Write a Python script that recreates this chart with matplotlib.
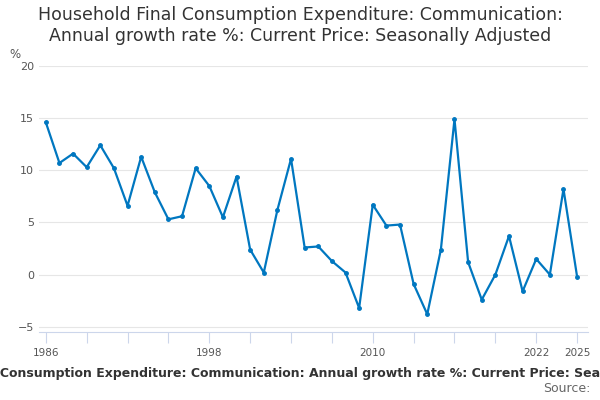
import matplotlib
matplotlib.use("Agg")
import matplotlib.pyplot as plt

# Annual growth rate (%) by year
years = list(range(1986, 2026))
growth = [14.6, 10.7, 11.6, 10.3, 12.4, 10.2, 6.6, 11.3, 7.9, 5.3,
          5.6, 10.2, 8.5, 5.5, 9.4, 2.4, 0.2, 6.2, 11.1, 2.6,
          2.7, 1.3, 0.2, -3.2, 6.7, 4.7, 4.8, -0.9, -3.8, 2.4,
          14.9, 1.2, -2.4, 0.0, 3.7, -1.6, 1.5, 0.0, 8.2, -0.2]
label_years = [1986, 1998, 2010, 2022, 2025]
y_ticks = [-5, 0, 5, 10, 15, 20]

fig = plt.figure(figsize=(6, 4), dpi=100)
ax = fig.add_axes([0.065, 0.17, 0.915, 0.665])

ax.plot(years, growth, color="#0077c0", linewidth=1.6, marker="o", markersize=2.5)

ax.set_ylim(-5.5, 20)
ax.set_xlim(1985.5, 2025.8)
ax.set_yticks(y_ticks)
ax.grid(axis="y", color="#e6e6e6", linewidth=0.8)
ax.set_axisbelow(True)

tick_years = sorted(set(range(1986, 2026, 3)) | {2025})
ax.set_xticks(tick_years)
ax.set_xticklabels([str(y) if y in label_years else "" for y in tick_years])
ax.tick_params(axis="x", colors="#ccd6eb", labelcolor="#555555", length=8, labelsize=7.5)
ax.tick_params(axis="y", length=0, labelcolor="#555555", labelsize=8)

for side in ["top", "right", "left"]:
    ax.spines[side].set_visible(False)
ax.spines["bottom"].set_color("#ccd6eb")

fig.text(0.5, 0.985, "Household Final Consumption Expenditure: Communication:\nAnnual growth rate %: Current Price: Seasonally Adjusted",
         ha="center", va="top", fontsize=12.5, color="#333333")
fig.text(0.015, 0.855, "%", fontsize=8.5, color="#555555")
fig.text(0.5, 0.067, "Household Final Consumption Expenditure: Communication: Annual growth rate %: Current Price: Seasonally Adjusted",
         ha="center", va="center", fontsize=9, color="#333333", fontweight="bold")
fig.text(0.985, 0.02, "Source:", ha="right", fontsize=9, color="#666666")

fig.savefig("out.png")
